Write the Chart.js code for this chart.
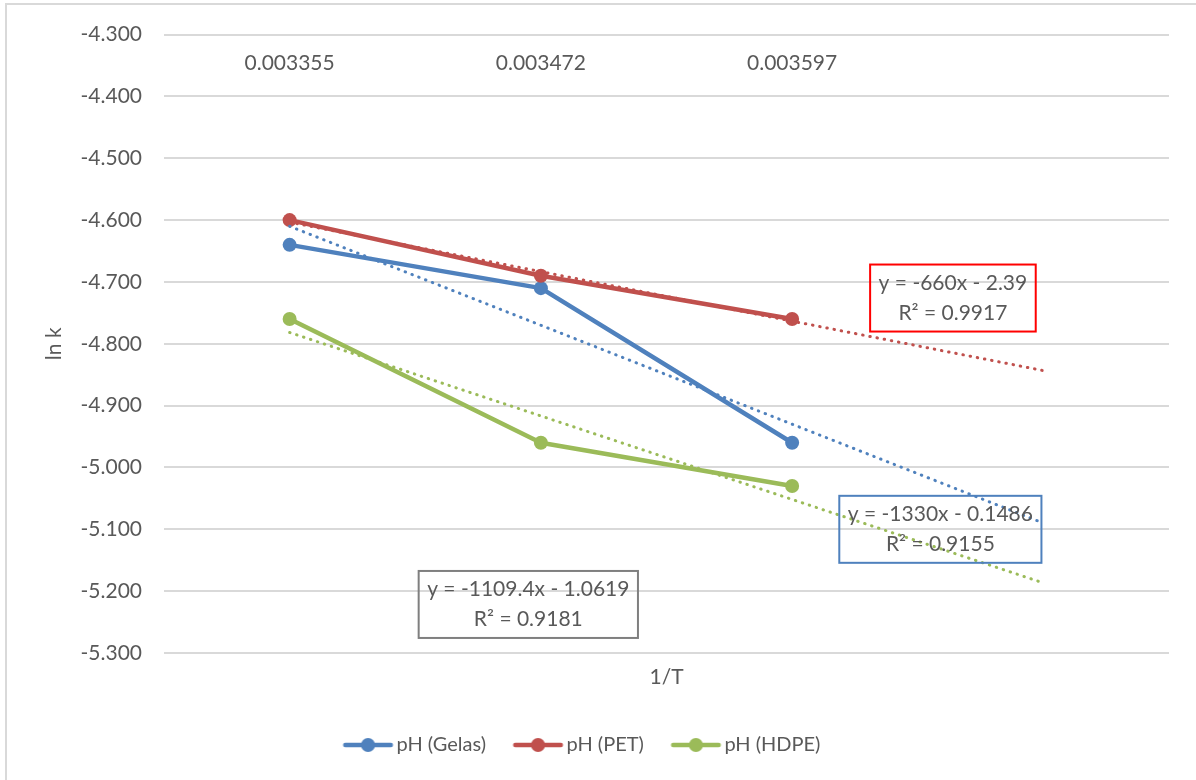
<!DOCTYPE html>
<html>
<head>
<meta charset="utf-8">
<script src="https://cdn.jsdelivr.net/npm/chart.js@4.4.1/dist/chart.umd.min.js"></script>
<style>
  html, body { margin: 0; padding: 0; background: #ffffff; }
  #wrap { width: 1196px; height: 780px; position: relative; }
</style>
</head>
<body>
<div id="wrap"><canvas id="chart" width="1196" height="780"></canvas></div>
<script>
// 1/T categories (the last slot holds the forward-forecast of the trendlines)
const categories = ['0.003355', '0.003472', '0.003597', ''];

// ln k per container type
const gelas = [-4.64, -4.71, -4.96];
const pet   = [-4.60, -4.69, -4.76];
const hdpe  = [-4.76, -4.96, -5.03];

const seriesNames = ['pH (Gelas)', 'pH (PET)', 'pH (HDPE)'];
const seriesColors = ['#4f81bd', '#c0504d', '#9bbb59'];

// value axis range
const yMin = -5.3;
const yMax = -4.3;
const yStep = 0.1;

// trendline equation labels
const trendEquations = [
  ['y = -1330x - 0.1486', 'R² = 0.9155'],
  ['y = -660x - 2.39', 'R² = 0.9917'],
  ['y = -1109.4x - 1.0619', 'R² = 0.9181']
];

const TEXT = '#595959';
const GRID = '#d9d9d9';
const FONT = 'Lato';

// least-squares line over the category index, carried on to every category
function linearTrend(values, count) {
  const n = values.length;
  let sx = 0, sy = 0, sxx = 0, sxy = 0;
  values.forEach((v, i) => { sx += i; sy += v; sxx += i * i; sxy += i * v; });
  const slope = (n * sxy - sx * sy) / (n * sxx - sx * sx);
  const intercept = (sy - slope * sx) / n;
  return Array.from({ length: count }, (_, i) => intercept + slope * i);
}

// legend swatch: line with a round marker in the middle, sitting at the right of the slot
function legendIcon(color) {
  const c = document.createElement('canvas');
  c.width = 80; c.height = 16;
  const g = c.getContext('2d');
  g.strokeStyle = color; g.lineWidth = 4.5; g.lineCap = 'round';
  g.beginPath(); g.moveTo(23.75, 8); g.lineTo(69.25, 8); g.stroke();
  g.fillStyle = color;
  g.beginPath(); g.arc(46.5, 8, 7, 0, Math.PI * 2); g.fill();
  return c;
}
const icons = seriesColors.map(legendIcon);

const seriesData = [gelas, pet, hdpe];

const datasets = [];
seriesData.forEach((vals, i) => {
  datasets.push({
    label: seriesNames[i],
    data: vals,
    borderColor: seriesColors[i],
    backgroundColor: seriesColors[i],
    pointBackgroundColor: seriesColors[i],
    pointBorderColor: seriesColors[i],
    pointBorderWidth: 0,
    pointRadius: 7,
    pointHoverRadius: 7,
    borderWidth: 4.5,
    borderCapStyle: 'round',
    borderJoinStyle: 'round',
    tension: 0,
    order: 3 - i
  });
});
seriesData.forEach((vals, i) => {
  datasets.push({
    label: seriesNames[i] + ' trend',
    data: linearTrend(vals, categories.length),
    borderColor: seriesColors[i],
    borderWidth: 3,
    borderDash: [0.5, 6.8],
    borderCapStyle: 'round',
    pointRadius: 0,
    pointHoverRadius: 0,
    tension: 0,
    fill: false,
    order: 0,
    isTrend: true
  });
});

// equation boxes, anchored in data units (category index, ln k)
const trendLabelAnchors = [
  { x: 2.59, y: -5.100, border: '#4f81bd' },
  { x: 2.64, y: -4.726, border: '#ff0000' },
  { x: 0.95, y: -5.2215, border: '#7f7f7f' }
];

const framePlugin = {
  id: 'frame',
  beforeDraw(chart) {
    const ctx = chart.ctx;
    ctx.save();
    ctx.fillStyle = '#ffffff';
    ctx.fillRect(0, 0, chart.width, chart.height);
    ctx.strokeStyle = GRID;
    ctx.lineWidth = 2;
    ctx.beginPath();
    ctx.moveTo(6, chart.height);
    ctx.lineTo(6, 4);
    ctx.lineTo(chart.width, 4);
    ctx.stroke();
    ctx.restore();
  }
};

const equationPlugin = {
  id: 'equations',
  afterDatasetsDraw(chart) {
    const ctx = chart.ctx;
    const xs = chart.scales.x, ys = chart.scales.y;
    ctx.save();
    ctx.font = '21px ' + FONT;
    ctx.textAlign = 'center';
    ctx.textBaseline = 'middle';
    trendEquations.forEach((lines, i) => {
      const a = trendLabelAnchors[i];
      const cx = xs.getPixelForValue(a.x);
      const cy = ys.getPixelForValue(a.y);
      const w = Math.max(...lines.map(t => ctx.measureText(t).width)) + 17;
      const h = 67;
      ctx.strokeStyle = a.border;
      ctx.lineWidth = 2;
      ctx.strokeRect(cx - w / 2, cy - h / 2, w, h);
      ctx.fillStyle = TEXT;
      ctx.fillText(lines[0], cx, cy - 15);
      ctx.fillText(lines[1], cx, cy + 15);
    });
    ctx.restore();
  }
};

// nudge the legend row so it sits under the series block
const legendShiftPlugin = {
  id: 'legendShift',
  afterLayout(chart) {
    const lg = chart.legend;
    if (lg) { lg.left -= 11; lg.right -= 11; }
  }
};

Chart.defaults.font.family = FONT;
Chart.defaults.font.size = 21;
Chart.defaults.color = TEXT;

function build() {
  new Chart(document.getElementById('chart'), {
    type: 'line',
    data: { labels: categories, datasets },
    plugins: [framePlugin, equationPlugin, legendShiftPlugin],
    options: {
      responsive: false,
      animation: false,
      devicePixelRatio: 1,
      layout: { padding: { left: 10, right: 27, top: -1, bottom: 15 } },
      plugins: {
        tooltip: { enabled: false },
        legend: {
          position: 'bottom',
          labels: {
            usePointStyle: true,
            pointStyleWidth: 50,
            padding: 20.5,
            color: TEXT,
            font: { size: 20, family: FONT },
            sort: (a, b) => a.datasetIndex - b.datasetIndex,
            generateLabels(chart) {
              const base = Chart.defaults.plugins.legend.labels.generateLabels(chart);
              return base
                .filter(it => !chart.data.datasets[it.datasetIndex].isTrend)
                .map(it => Object.assign(it, { pointStyle: icons[it.datasetIndex], fontColor: TEXT }));
            }
          }
        }
      },
      scales: {
        x: {
          type: 'category',
          position: 'top',
          offset: true,
          grid: { display: false, drawTicks: false },
          border: { display: false },
          ticks: {
            mirror: true,
            padding: 16,
            color: TEXT,
            maxRotation: 0,
            autoSkip: false,
            font: { size: 21, family: FONT }
          }
        },
        x2: {
          type: 'category',
          position: 'bottom',
          offset: true,
          grid: { display: false, drawTicks: false },
          border: { display: false },
          ticks: { display: false },
          title: {
            display: true,
            text: '1/T',
            color: TEXT,
            font: { size: 21, family: FONT },
            padding: { top: 11.4, bottom: 24.9 }
          }
        },
        y: {
          min: yMin,
          max: yMax,
          afterFit(scale) { scale.width = 154; },
          grid: { color: GRID, lineWidth: 2, drawTicks: false },
          border: { display: false },
          ticks: {
            stepSize: yStep,
            padding: 22,
            color: TEXT,
            font: { size: 21, family: FONT },
            callback: v => Number(v).toFixed(3)
          },
          title: {
            display: true,
            text: 'ln k',
            color: TEXT,
            font: { size: 21, family: FONT },
            padding: { top: 32, bottom: 14 }
          }
        }
      }
    }
  });
}

// make sure the face is ready before text gets measured
if (document.fonts && document.fonts.load) {
  document.fonts.load('21px ' + FONT).then(build, build);
} else {
  build();
}
</script>
</body>
</html>
